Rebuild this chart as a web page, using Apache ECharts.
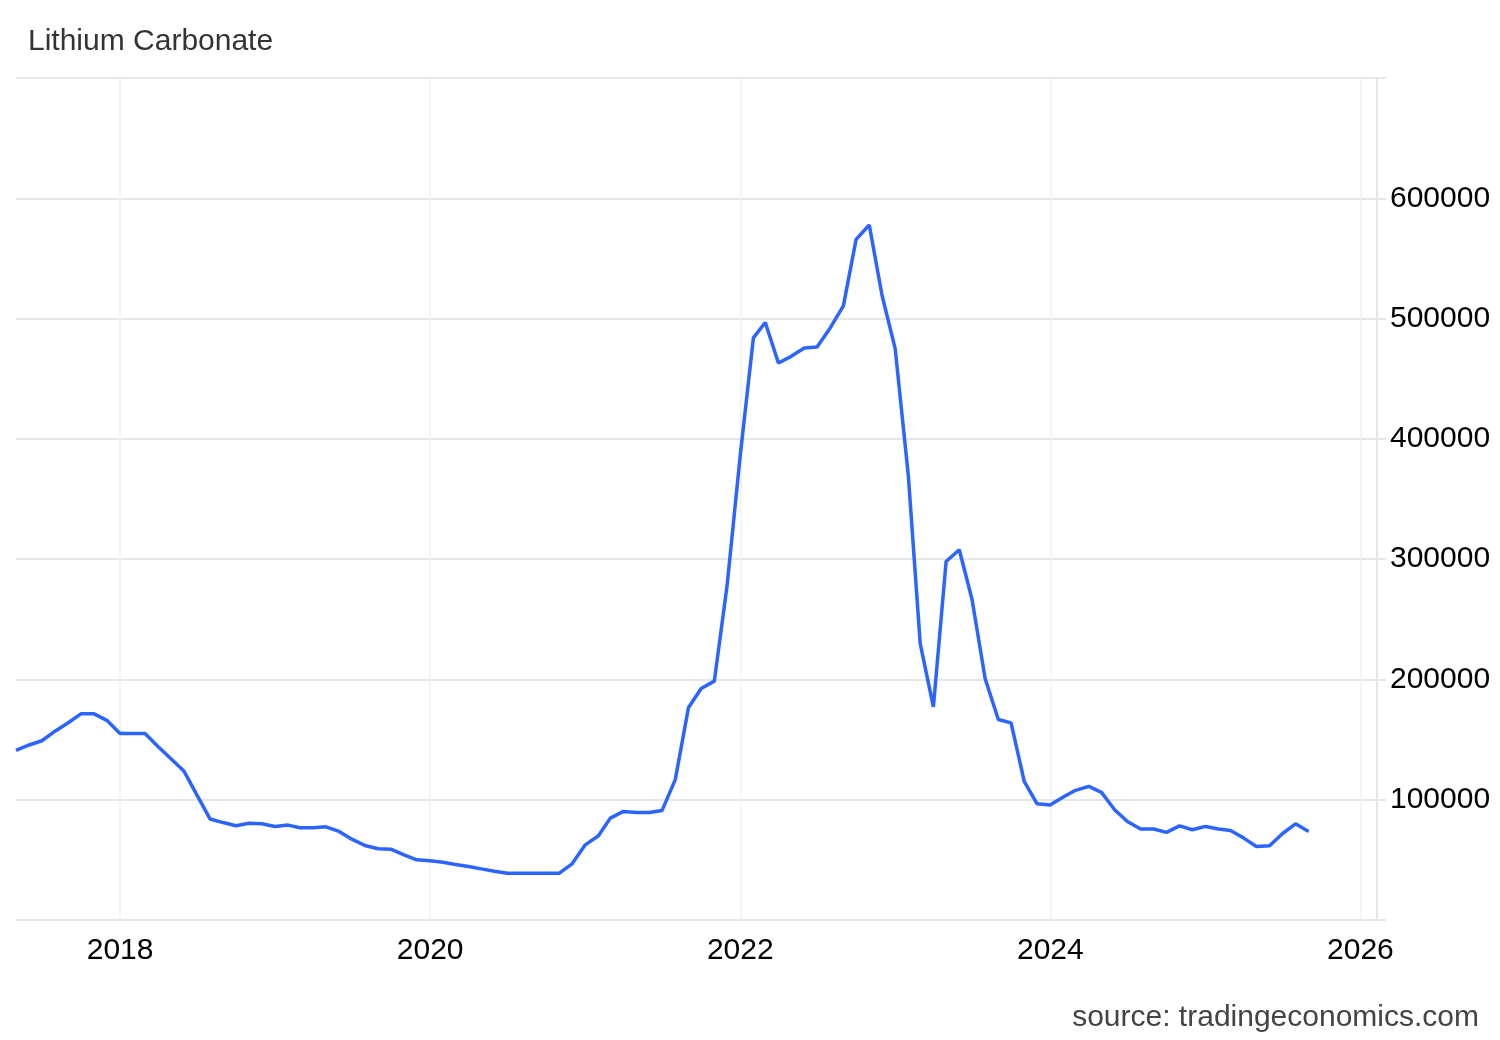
<!DOCTYPE html>
<html><head><meta charset="utf-8">
<script src="https://cdn.jsdelivr.net/npm/echarts@6/dist/echarts.min.js"></script>
<style>html,body{margin:0;padding:0;background:#fff}#c{width:1500px;height:1040px}</style>
</head><body><div id="c"></div>
<script>
const title = 'Lithium Carbonate';
const source = 'source: tradingeconomics.com';
const months = [
 '2017-05','2017-06','2017-07','2017-08','2017-09','2017-10','2017-11','2017-12',
 '2018-01','2018-02','2018-03','2018-04','2018-05','2018-06','2018-07','2018-08','2018-09','2018-10','2018-11','2018-12',
 '2019-01','2019-02','2019-03','2019-04','2019-05','2019-06','2019-07','2019-08','2019-09','2019-10','2019-11','2019-12',
 '2020-01','2020-02','2020-03','2020-04','2020-05','2020-06','2020-07','2020-08','2020-09','2020-10','2020-11','2020-12',
 '2021-01','2021-02','2021-03','2021-04','2021-05','2021-06','2021-07','2021-08','2021-09','2021-10','2021-11','2021-12',
 '2022-01','2022-02','2022-03','2022-04','2022-05','2022-06','2022-07','2022-08','2022-09','2022-10','2022-11','2022-12',
 '2023-01','2023-02','2023-03','2023-04','2023-05','2023-06','2023-07','2023-08','2023-09','2023-10','2023-11','2023-12',
 '2024-01','2024-02','2024-03','2024-04','2024-05','2024-06','2024-07','2024-08','2024-09','2024-10','2024-11','2024-12',
 '2025-01','2025-02','2025-03','2025-04','2025-05','2025-06','2025-07','2025-08','2025-09'
];
const prices = [
 141000,145500,149000,157000,164000,171400,171400,166000,
 155000,155000,155000,144000,134000,123600,104000,84000,81000,78300,80500,80000,
 77800,78900,76700,76700,77500,73600,67200,61900,59200,58900,54200,50000,
 49200,48000,46200,44400,42500,40500,38900,38900,38900,38900,38900,46700,
 62500,70000,84700,90300,89400,89400,91100,116700,176400,192500,198600,277800,
 386000,483900,496700,463000,468600,475500,476400,492200,510500,565800,577800,519400,
 475000,369400,229700,177200,298000,307800,266700,200500,166700,163900,115300,96700,
 95600,102200,107800,111100,106100,91700,81900,75600,75600,72800,78300,75000,
 77800,75600,74400,68100,61100,61700,71700,80000,73600
];
const yearTicks = [2018, 2020, 2022, 2024, 2026];
const yTicks = [100000,200000,300000,400000,500000,600000];

const xStart = '2017-05-01', xEnd = '2026-02-09';
function decYear(s){ const d=new Date(s+'T00:00:00Z'); const y=d.getUTCFullYear();
  const a=Date.UTC(y,0,1), b=Date.UTC(y+1,0,1); return y+(d.getTime()-a)/(b-a); }

const FONT = 'Liberation Sans, Arial, sans-serif';
const chart = echarts.init(document.getElementById('c'), null, {renderer:'canvas'});
const data = months.map((m,i)=>[m+'-01', prices[i]]);
chart.setOption({
  animation:false,
  backgroundColor:'#fff',
  textStyle:{fontFamily:FONT},
  title:[
    {text:title, left:28, top:27, padding:0, textStyle:{fontSize:30, fontWeight:'normal', color:'#333', fontFamily:FONT}},
    {text:source, right:21, top:1003, padding:0, textStyle:{fontSize:30, fontWeight:'normal', color:'#444', fontFamily:FONT}}
  ],
  grid:{left:16, right:123, top:78, bottom:120},
  xAxis:[
    {type:'time', min:xStart, max:xEnd, show:false, position:'bottom'},
    {type:'value', min:decYear(xStart), max:decYear(xEnd), splitNumber:4, position:'bottom',
     axisLine:{show:true, lineStyle:{color:'#e6e6e6', width:2}},
     axisTick:{show:false},
     axisLabel:{color:'#000', fontSize:30, margin:16, showMinLabel:false, showMaxLabel:false,
       formatter:v=> yearTicks.indexOf(Math.round(v*1000)/1000)>=0 ? String(Math.round(v)) : ''},
     splitLine:{show:true, showMinLine:false, showMaxLine:false, lineStyle:{color:'#eef1f5', width:1.5}}
    }
  ],
  yAxis:{
    type:'value', position:'right', min:0, max:700000, interval:100000,
    axisLine:{show:true, lineStyle:{color:'#e6e6e6', width:2}},
    axisTick:{show:true, length:9, lineStyle:{color:'#e6e6e6', width:2}},
    axisLabel:{color:'#000', fontSize:30, margin:13, formatter:v=> yTicks.indexOf(v)>=0 ? String(v) : ''},
    splitLine:{show:true, lineStyle:{color:'#e6e6e6', width:2}}
  },
  series:[{type:'line', xAxisIndex:0, data:data, showSymbol:false, symbol:'none', lineStyle:{color:'#2b64ff', width:3.5}, itemStyle:{color:'#2b64ff'}}]
});
</script></body></html>
